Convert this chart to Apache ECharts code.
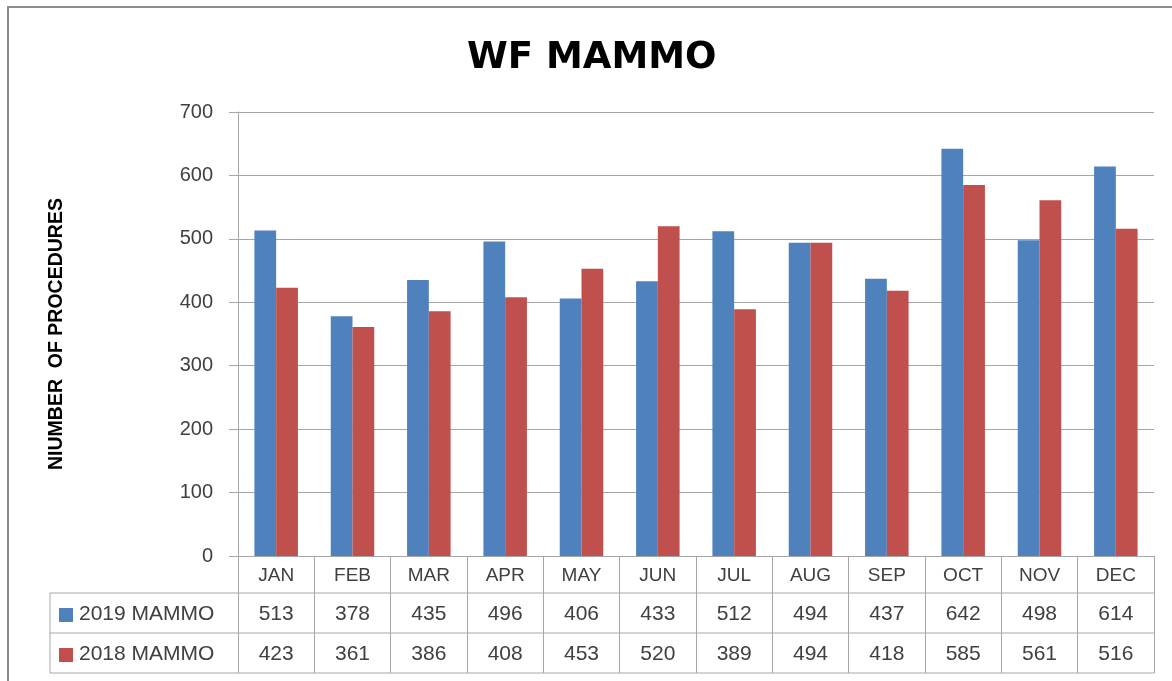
<!DOCTYPE html>
<html>
<head>
<meta charset="utf-8">
<script src="https://cdn.jsdelivr.net/npm/echarts@6/dist/echarts.min.js"></script>
<style>
  html, body { margin: 0; padding: 0; background: #ffffff; }
  #chart { width: 1172px; height: 681px; }
</style>
</head>
<body>
<div id="chart"></div>
<script>
const months = ["JAN", "FEB", "MAR", "APR", "MAY", "JUN", "JUL", "AUG", "SEP", "OCT", "NOV", "DEC"];
const mammo2019 = [513, 378, 435, 496, 406, 433, 512, 494, 437, 642, 498, 614];
const mammo2018 = [423, 361, 386, 408, 453, 520, 389, 494, 418, 585, 561, 516];
const seriesNames = ["2019 MAMMO", "2018 MAMMO"];
const yTicks = [0, 100, 200, 300, 400, 500, 600, 700];

const FONT = "'Liberation Sans', Arial, sans-serif";
const TEXT = "#404040";
const LINE = "#a6a6a6";
const colors = ["#4f81bd", "#c0504d"];

// plot area + table geometry
const plotLeft = 238, plotRight = 1154, plotTop = 112, plotBottom = 556;
const rowLines = [593, 633, 673];
const tableLeft = 50;

const chart = echarts.init(document.getElementById("chart"));

chart.setOption({
  backgroundColor: "#ffffff",
  animation: false,
  title: {
    text: "WF MAMMO",
    left: 462,
    top: 35,
    textStyle: { fontFamily: "'DejaVu Sans', sans-serif", fontSize: 37, fontWeight: "bold", color: "#000000" }
  },
  grid: {
    left: plotLeft,
    right: 1172 - plotRight,
    top: plotTop,
    bottom: 681 - plotBottom
  },
  xAxis: {
    type: "category",
    data: months,
    axisLine: { lineStyle: { color: LINE, width: 1 } },
    axisTick: { show: true, length: rowLines[2] - plotBottom, lineStyle: { color: LINE } },
    axisLabel: { color: TEXT, fontFamily: FONT, fontSize: 19, margin: 10 }
  },
  yAxis: {
    type: "value",
    min: yTicks[0],
    max: yTicks[yTicks.length - 1],
    interval: 100,
    name: "NIUMBER  OF PROCEDURES",
    nameLocation: "middle",
    nameGap: 171,
    nameRotate: 90,
    nameTextStyle: { fontFamily: FONT, fontSize: 19.5, fontWeight: "bold", color: "#000000" },
    axisLine: { show: true, lineStyle: { color: LINE } },
    axisTick: { show: true, length: 9, lineStyle: { color: LINE } },
    axisLabel: { color: TEXT, fontFamily: FONT, fontSize: 20, margin: 25 },
    splitLine: { lineStyle: { color: LINE } }
  },
  series: [
    {
      name: seriesNames[0],
      type: "bar",
      data: mammo2019,
      barGap: "0%",
      barCategoryGap: "43%",
      itemStyle: { color: colors[0] }
    },
    {
      name: seriesNames[1],
      type: "bar",
      data: mammo2018,
      itemStyle: { color: colors[1] }
    }
  ]
});

// data table under the axis
const graphics = [
  {
    type: "rect",
    shape: { x: 8, y: 7, width: 1300, height: 800 },
    style: { fill: "none", stroke: "#8c8c8c", lineWidth: 2 },
    silent: true
  }
];
rowLines.forEach((y) => {
  graphics.push({
    type: "line",
    shape: { x1: tableLeft, y1: y, x2: plotRight, y2: y },
    style: { stroke: LINE, lineWidth: 1 }
  });
});
graphics.push({
  type: "line",
  shape: { x1: tableLeft, y1: rowLines[0], x2: tableLeft, y2: rowLines[2] },
  style: { stroke: LINE, lineWidth: 1 }
});

const rows = [mammo2019, mammo2018];
rows.forEach((vals, r) => {
  const yMid = (rowLines[r] + rowLines[r + 1]) / 2;
  graphics.push({
    type: "rect",
    shape: { x: 59, y: yMid - 5, width: 14, height: 14 },
    style: { fill: colors[r] }
  });
  graphics.push({
    type: "text",
    x: 79,
    y: yMid + 1,
    style: {
      text: seriesNames[r],
      fill: TEXT,
      font: "21px " + FONT,
      textVerticalAlign: "middle",
      verticalAlign: "middle"
    }
  });
  vals.forEach((v, i) => {
    const x = chart.convertToPixel({ xAxisIndex: 0 }, months[i]);
    graphics.push({
      type: "text",
      x: x,
      y: yMid + 1,
      style: {
        text: String(v),
        fill: TEXT,
        font: "21px " + FONT,
        align: "center",
        textAlign: "center",
        verticalAlign: "middle",
        textVerticalAlign: "middle"
      }
    });
  });
});

chart.setOption({ graphic: graphics });

window.addEventListener("resize", () => chart.resize());
</script>
</body>
</html>
